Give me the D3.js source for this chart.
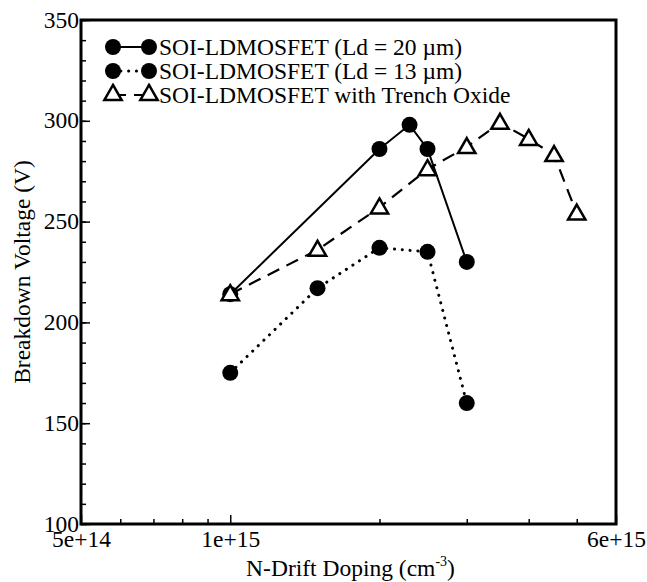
<!DOCTYPE html>
<html><head><meta charset="utf-8">
<script src="https://cdn.jsdelivr.net/npm/d3@7"></script>
<style>body{margin:0;background:#fff}svg{display:block}text{font-family:"Liberation Serif","Times New Roman",serif;fill:#000}</style>
</head><body><svg id="c" width="647" height="582"></svg>
<script>
const xA = [1e15, 2e15, 2.3e15, 2.5e15, 3e15];
const yA = [214, 286, 298, 286, 230];
const xB = [1e15, 1.5e15, 2e15, 2.5e15, 3e15];
const yB = [175, 217, 237, 235, 160];
const xC = [1e15, 1.5e15, 2e15, 2.5e15, 3e15, 3.5e15, 4e15, 4.5e15, 5e15];
const yC = [214, 236, 257, 276, 287, 299, 291, 283, 254];
const seriesNames = ["SOI-LDMOSFET (Ld = 20 \u00b5m)", "SOI-LDMOSFET (Ld = 13 \u00b5m)", "SOI-LDMOSFET with Trench Oxide"];
const xMajorTicks = [5e14, 1e15, 6e15];
const xTickLabels = ["5e+14", "1e+15", "6e+15"];
const xMinorTicks = [6e14, 7e14, 8e14, 9e14, 2e15, 3e15, 4e15, 5e15];
const yMajorTicks = [100, 150, 200, 250, 300, 350];
const yMinorTicks = d3.range(100, 351, 10);

const svg = d3.select("#c");
const L = 81, R = 616, T = 20, B = 524;
const x = d3.scaleLog().domain([5e14, 6e15]).range([L, R]);
const y = d3.scaleLinear().domain([100, 350]).range([B, T]);
const FS = 23.5;
const FF = '"Liberation Serif","Times New Roman",serif';

// ticks
svg.append("g").attr("transform", `translate(${L},0)`)
  .call(d3.axisLeft(y).tickValues(yMinorTicks).tickSize(-5).tickFormat(""))
  .call(a => a.select(".domain").remove()).selectAll("line").attr("stroke", "#000").attr("stroke-width", 1.5);
svg.append("g").attr("transform", `translate(${L},0)`)
  .call(d3.axisLeft(y).tickValues(yMajorTicks).tickSize(-9).tickFormat(d3.format("d")))
  .call(a => a.select(".domain").remove())
  .call(a => a.selectAll("line").attr("stroke", "#000").attr("stroke-width", 1.5))
  .call(a => a.selectAll("text").attr("x", -2).attr("dy", "0.3em").attr("font-size", FS).style("font-family", FF));
svg.append("g").attr("transform", `translate(0,${B})`)
  .call(d3.axisBottom(x).tickValues(xMinorTicks).tickSize(-5).tickFormat(""))
  .call(a => a.select(".domain").remove()).selectAll("line").attr("stroke", "#000").attr("stroke-width", 1.5);
svg.append("g").attr("transform", `translate(0,${B})`)
  .call(d3.axisBottom(x).tickValues(xMajorTicks).tickSize(-9).tickFormat((d, i) => xTickLabels[i]))
  .call(a => a.select(".domain").remove())
  .call(a => a.selectAll("line").attr("stroke", "#000").attr("stroke-width", 1.5))
  .call(a => a.selectAll("text").attr("y", 23).attr("dy", null).attr("font-size", FS).style("font-family", FF));

// frame
svg.append("rect").attr("x", L).attr("y", T).attr("width", R - L).attr("height", B - T)
  .attr("fill", "none").attr("stroke", "#000").attr("stroke-width", 3);

// axis titles
const xt = svg.append("text").attr("x", (L + R) / 2 + 2).attr("y", 576).attr("text-anchor", "middle").attr("font-size", FS);
xt.append("tspan").text("N-Drift Doping (cm");
xt.append("tspan").attr("font-size", 14).attr("dy", -10).text("-3");
xt.append("tspan").attr("dy", 10).text(")");
svg.append("text").attr("transform", `translate(30,${(T + B) / 2}) rotate(-90)`)
  .attr("text-anchor", "middle").attr("font-size", FS).text("Breakdown Voltage (V)");

const line = d3.line().x(d => x(d[0])).y(d => y(d[1]));
const dataA = xA.map((v, i) => [v, yA[i]]);
const dataB = xB.map((v, i) => [v, yB[i]]);
const dataC = xC.map((v, i) => [v, yC[i]]);
const styles = [
  {dash: null, cap: "butt", w: 2},
  {dash: "0.1,7.7", cap: "round", w: 3},
  {dash: "13,8", cap: "butt", w: 2.2}
];
const tri = d3.symbol().type(d3.symbolTriangle).size(130);

function drawSeries(data, st) {
  svg.append("path").attr("d", line(data)).attr("fill", "none").attr("stroke", "#000")
    .attr("stroke-width", st.w).attr("stroke-dasharray", st.dash).attr("stroke-linecap", st.cap);
}
drawSeries(dataC, styles[2]);
drawSeries(dataA, styles[0]);
drawSeries(dataB, styles[1]);
svg.append("g").selectAll("circle").data(dataA.concat(dataB)).join("circle")
  .attr("cx", d => x(d[0])).attr("cy", d => y(d[1])).attr("r", 8).attr("fill", "#000");
svg.append("g").selectAll("path").data(dataC).join("path")
  .attr("d", tri).attr("transform", d => `translate(${x(d[0])},${y(d[1]) + 1})`)
  .attr("fill", "#fff").attr("stroke", "#000").attr("stroke-width", 2.5);

// legend
const lx1 = 113, lx2 = 149, ly0 = 47, ldy = 24;
seriesNames.forEach((name, i) => {
  const yy = ly0 + i * ldy;
  const st = styles[i];
  svg.append("line").attr("x1", lx1).attr("x2", lx2).attr("y1", yy).attr("y2", yy)
    .attr("stroke", "#000").attr("stroke-width", st.w).attr("stroke-dasharray", st.dash).attr("stroke-linecap", st.cap);
  [lx1, lx2].forEach(cx => {
    if (i < 2) svg.append("circle").attr("cx", cx).attr("cy", yy).attr("r", 8).attr("fill", "#000");
    else svg.append("path").attr("d", tri).attr("transform", `translate(${cx},${yy})`)
      .attr("fill", "#fff").attr("stroke", "#000").attr("stroke-width", 2.5);
  });
  svg.append("text").attr("x", 159).attr("y", yy).attr("dy", "0.33em").attr("font-size", FS).text(name);
});
</script></body></html>
